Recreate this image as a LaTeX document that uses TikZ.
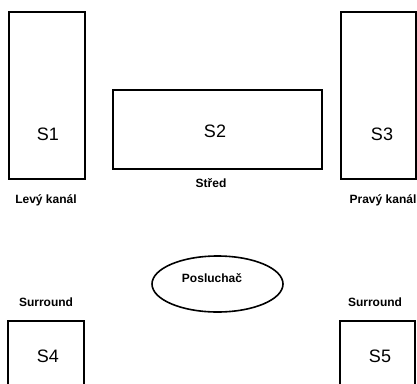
\documentclass[tikz,border=0pt]{standalone}
\usepackage{fontspec}
\setmainfont{Liberation Sans}
\usetikzlibrary{positioning, shapes.geometric}
\tikzset{
  every picture/.style={line width=1.6pt},
  spk/.style={draw, rectangle, inner sep=0pt},
  tag/.style={font=\fontsize{18}{21}\selectfont, anchor=base},
  caption/.style={font=\bfseries\fontsize{12}{14}\selectfont, anchor=base},
}

\begin{document}
\begin{tikzpicture}[x=1pt, y=-1pt]
  \useasboundingbox (0,0) rectangle (417,383);
  % speakers
  \node[spk, minimum width=76pt, minimum height=167pt] (s1) at (47,95.5) {};
  \node[spk, minimum width=209pt, minimum height=79pt] (s2) at (217.5,129.5) {};
  \node[spk, minimum width=75pt, minimum height=167pt] (s3) at (378.5,95.5) {};
  \node[spk, minimum width=76pt, minimum height=80pt] (s4) at (46,361) {};
  \node[spk, minimum width=75pt, minimum height=80pt] (s5) at (377.5,361) {};
  \foreach \n/\x/\y in {1/48/140, 2/215/137, 3/382/140, 4/48/362, 5/380/362}
    \node[tag] (t\n) at (\x,\y) {S\n};
  % listener
  \node[draw, ellipse, minimum width=131pt, minimum height=56pt] (ear) at (217.5,284) {};
  \node[caption] (earname) at (212,282) {Posluchač};
  % captions
  \node[caption] (left) at (46,203) {Levý kanál};
  \node[caption] (mid) at (211,187) {Střed};
  \node[caption] (right) at (383,203) {Pravý kanál};
  \node[caption] (surl) at (46,306) {Surround};
  \node[caption] (surr) at (375,306) {Surround};
\end{tikzpicture}
\end{document}
